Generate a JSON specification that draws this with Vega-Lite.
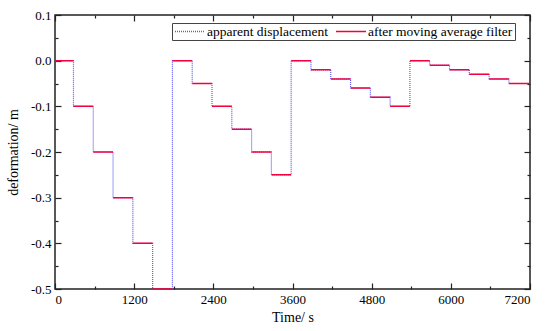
{
  "$schema": "https://vega.github.io/schema/vega-lite/v6.json",
  "autosize": {"type": "none"},
  "padding": {"left": 55, "top": 15, "right": 20, "bottom": 42},
  "width": 475,
  "height": 274,
  "config": {
    "font": "Liberation Serif",
    "view": {"stroke": "#222", "strokeWidth": 1.5},
    "axis": {"grid": false, "domain": false, "labelFont": "Liberation Serif", "labelFontSize": 13, "labelColor": "#000", "titleFont": "Liberation Serif", "titleFontSize": 14, "titleFontWeight": "normal", "titleColor": "#000", "tickColor": "#222", "tickWidth": 1.2}
  },
  "datasets": {
    "raw": [
      {"t": 0, "v": 0}, {"t": 280, "v": -0.1}, {"t": 580, "v": -0.2}, {"t": 880, "v": -0.3}, {"t": 1180, "v": -0.4}, {"t": 1480, "v": -0.5},
      {"t": 1780, "v": 0}, {"t": 2080, "v": -0.05}, {"t": 2380, "v": -0.1}, {"t": 2680, "v": -0.15}, {"t": 2980, "v": -0.2}, {"t": 3280, "v": -0.25},
      {"t": 3580, "v": 0}, {"t": 3880, "v": -0.02}, {"t": 4180, "v": -0.04}, {"t": 4480, "v": -0.06}, {"t": 4780, "v": -0.08}, {"t": 5080, "v": -0.1},
      {"t": 5380, "v": 0}, {"t": 5680, "v": -0.01}, {"t": 5980, "v": -0.02}, {"t": 6280, "v": -0.03}, {"t": 6580, "v": -0.04}, {"t": 6880, "v": -0.05},
      {"t": 7200, "v": -0.05}
    ],
    "filt": [
      {"seg": 1, "t": 0, "v": 0}, {"seg": 1, "t": 280, "v": 0},
      {"seg": 2, "t": 280, "v": -0.1}, {"seg": 2, "t": 580, "v": -0.1},
      {"seg": 3, "t": 580, "v": -0.2}, {"seg": 3, "t": 880, "v": -0.2},
      {"seg": 4, "t": 880, "v": -0.3}, {"seg": 4, "t": 1180, "v": -0.3},
      {"seg": 5, "t": 1180, "v": -0.4}, {"seg": 5, "t": 1480, "v": -0.4},
      {"seg": 6, "t": 1480, "v": -0.5}, {"seg": 6, "t": 1780, "v": -0.5},
      {"seg": 7, "t": 1780, "v": 0}, {"seg": 7, "t": 2080, "v": 0},
      {"seg": 8, "t": 2080, "v": -0.05}, {"seg": 8, "t": 2380, "v": -0.05},
      {"seg": 9, "t": 2380, "v": -0.1}, {"seg": 9, "t": 2680, "v": -0.1},
      {"seg": 10, "t": 2680, "v": -0.15}, {"seg": 10, "t": 2980, "v": -0.15},
      {"seg": 11, "t": 2980, "v": -0.2}, {"seg": 11, "t": 3280, "v": -0.2},
      {"seg": 12, "t": 3280, "v": -0.25}, {"seg": 12, "t": 3580, "v": -0.25},
      {"seg": 13, "t": 3580, "v": 0}, {"seg": 13, "t": 3880, "v": 0},
      {"seg": 14, "t": 3880, "v": -0.02}, {"seg": 14, "t": 4180, "v": -0.02},
      {"seg": 15, "t": 4180, "v": -0.04}, {"seg": 15, "t": 4480, "v": -0.04},
      {"seg": 16, "t": 4480, "v": -0.06}, {"seg": 16, "t": 4780, "v": -0.06},
      {"seg": 17, "t": 4780, "v": -0.08}, {"seg": 17, "t": 5080, "v": -0.08},
      {"seg": 18, "t": 5080, "v": -0.1}, {"seg": 18, "t": 5380, "v": -0.1},
      {"seg": 19, "t": 5380, "v": 0}, {"seg": 19, "t": 5680, "v": 0},
      {"seg": 20, "t": 5680, "v": -0.01}, {"seg": 20, "t": 5980, "v": -0.01},
      {"seg": 21, "t": 5980, "v": -0.02}, {"seg": 21, "t": 6280, "v": -0.02},
      {"seg": 22, "t": 6280, "v": -0.03}, {"seg": 22, "t": 6580, "v": -0.03},
      {"seg": 23, "t": 6580, "v": -0.04}, {"seg": 23, "t": 6880, "v": -0.04},
      {"seg": 24, "t": 6880, "v": -0.05}, {"seg": 24, "t": 7200, "v": -0.05}
    ]
  },
  "resolve": {"axis": {"x": "independent", "y": "independent"}},
  "layer": [
    {
      "data": {"name": "raw"},
      "transform": [{"calculate": "'apparent  displacement'", "as": "series"}],
      "mark": {"type": "line", "interpolate": "step-after", "strokeWidth": 1.2, "clip": true},
      "encoding": {
        "x": {"field": "t", "type": "quantitative", "scale": {"domain": [0, 7200], "nice": false},
          "axis": {"orient": "bottom", "title": "Time/ s", "values": [0, 600, 1200, 1800, 2400, 3000, 3600, 4200, 4800, 5400, 6000, 6600, 7200],
            "labelExpr": "datum.value % 1200 === 0 ? datum.label : ''", "format": "d",
            "tickSize": {"condition": {"test": "datum.value % 1200 === 0", "value": -6}, "value": -3},
            "labelPadding": 10, "titlePadding": 4}},
        "y": {"field": "v", "type": "quantitative", "scale": {"domain": [-0.5, 0.1], "nice": false, "zero": false},
          "axis": {"orient": "left", "title": "deformation/ m", "values": [-0.5, -0.45, -0.4, -0.35, -0.3, -0.25, -0.2, -0.15, -0.1, -0.05, 0, 0.05, 0.1],
            "labelExpr": "abs(round(datum.value*100)) % 10 === 0 ? replace(format(datum.value, '.1f'), '\u2212', '-') : ''",
            "tickSize": {"condition": {"test": "abs(round(datum.value*100)) % 10 === 0", "value": -6}, "value": -3},
            "labelPadding": 10, "titlePadding": 10}},
        "color": {"field": "series", "type": "nominal",
          "scale": {"domain": ["apparent  displacement", "after moving average filter"], "range": ["#5a5af5", "#f5003c"]},
          "legend": {"orient": "none", "legendX": 117, "legendY": 8, "direction": "horizontal", "columns": 2, "title": null,
            "symbolType": "stroke", "symbolSize": 900, "symbolStrokeWidth": 1.5, "labelFont": "Liberation Serif", "labelFontSize": 13.5, "labelColor": "#000",
            "clipHeight": 13, "strokeColor": "#444", "padding": 2, "columnPadding": 3, "labelOffset": 1, "rowPadding": 0}},
        "strokeDash": {"field": "series", "type": "nominal",
          "scale": {"domain": ["apparent  displacement", "after moving average filter"], "range": [[1, 1], [1, 0]]}, "legend": null}
      }
    },
    {
      "data": {"name": "filt"},
      "transform": [{"calculate": "'after moving average filter'", "as": "series"}],
      "mark": {"type": "line", "strokeWidth": 1.5, "clip": true},
      "encoding": {
        "x": {"field": "t", "type": "quantitative",
          "axis": {"orient": "top", "title": null, "labels": false, "values": [0, 600, 1200, 1800, 2400, 3000, 3600, 4200, 4800, 5400, 6000, 6600, 7200],
            "tickSize": {"condition": {"test": "datum.value % 1200 === 0", "value": -6}, "value": -3}}},
        "y": {"field": "v", "type": "quantitative",
          "axis": {"orient": "right", "title": null, "labels": false, "values": [-0.5, -0.45, -0.4, -0.35, -0.3, -0.25, -0.2, -0.15, -0.1, -0.05, 0, 0.05, 0.1],
            "tickSize": {"condition": {"test": "abs(round(datum.value*100)) % 10 === 0", "value": -6}, "value": -3}}},
        "detail": {"field": "seg", "type": "nominal"},
        "color": {"field": "series", "type": "nominal"},
        "strokeDash": {"field": "series", "type": "nominal"}
      }
    }
  ]
}
